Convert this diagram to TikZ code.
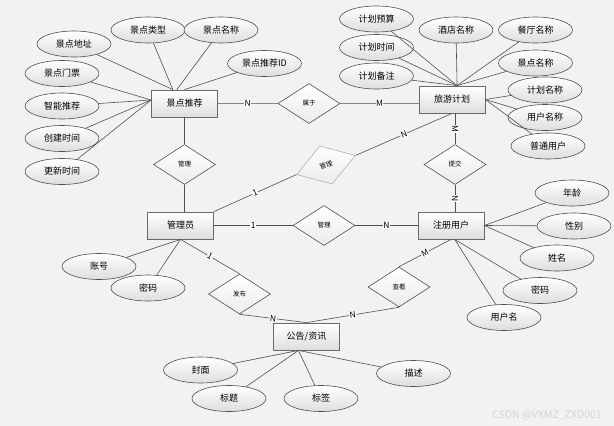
\documentclass[tikz,border=0pt]{standalone}
\usepackage{fontspec}
\setmainfont{Noto Sans CJK SC}
\usepackage{tikz}
\usetikzlibrary{shapes.geometric}
\tikzstyle{pixelGrid} = [x = 1pt, y = -1pt]
\definecolor{paperColor}{RGB}{242,242,242}
\definecolor{borderColor}{RGB}{105,105,105}
\definecolor{lineColor}{RGB}{80,80,80}
\definecolor{thickLineColor}{RGB}{135,135,135}
\definecolor{shadeColor}{RGB}{222,222,222}
\tikzstyle{entityStyle} = [draw=borderColor, line width=.8pt, top color=white, bottom color=shadeColor, minimum width=66pt, minimum height=27pt, inner sep=0pt, font=\fontsize{9}{10}\selectfont]
\tikzstyle{attributeStyle} = [ellipse, draw=lineColor, line width=.6pt, top color=white, bottom color=shadeColor, minimum width=74pt, minimum height=26pt, inner sep=0pt, font=\fontsize{9}{10}\selectfont]
\tikzstyle{relationStyle} = [diamond, draw=lineColor, line width=.6pt, top color=white, bottom color=shadeColor!60, minimum width=62pt, minimum height=40pt, inner sep=0pt, font=\fontsize{6.5}{7}\selectfont]
\tikzstyle{paleRelation} = [draw=black!30]
\tikzstyle{attributeLine} = [color=lineColor, line width=.6pt]
\tikzstyle{relationLine} = [color=lineColor, line width=.6pt]
\tikzstyle{heavyLine} = [color=thickLineColor, line width=1.3pt]
\tikzstyle{cardText} = [fill=white, inner sep=.5pt, midway, sloped, text=black, font=\fontsize{8.5}{9}\selectfont]
\tikzstyle{watermark} = [text=black!17, font=\fontsize{10.5}{11}\selectfont]
\newcommand{\entityNode}[3]{\node [entityStyle] (#1) at (#2) {#3};}
\newcommand{\attributeNode}[3]{\node [attributeStyle] (#1) at (#2) {#3};}
\newcommand{\relationNode}[3]{\node [relationStyle] (#1) at (#2) {#3};}
\newcommand{\attributeLink}[2]{\draw [attributeLine] (#1) -- (#2);}
\newcommand{\relationLink}[3]{\draw [relationLine] (#1) -- node [cardText] {#3} (#2);}
\newcommand{\heavyLink}[3]{\draw [heavyLine] (#1) -- node [cardText] {#3} (#2);}

\begin{document}
\begin{tikzpicture}[pixelGrid]
        \fill [paperColor] (0,0) rectangle (614,426);
        \useasboundingbox (0,0) rectangle (614,426);
        % entities
        \entityNode{jdtj}{184.5,103.5}{景点推荐}
        \entityNode{lyjh}{452,99.5}{旅游计划}
        \entityNode{gly}{180.5,225.5}{管理员}
        \entityNode{zcyh}{451,225.5}{注册用户}
        \entityNode{ggzx}{306.5,336.5}{公告/资讯}
        % relations
        \relationNode{shuyu}{309,103.5}{属于}
        \relationNode{glA}{184.5,164.5}{管理}
        \node [relationStyle, paleRelation, rotate=18] (glB) at (326,165) {管理};
        \relationNode{glC}{324,225.5}{管理}
        \relationNode{tijiao}{455,164.5}{提交}
        \relationNode{fabu}{239.5,294}{发布}
        \relationNode{chakan}{399,287}{查看}
        % attributes of 景点推荐
        \attributeNode{jdA}{74,44}{景点地址}
        \attributeNode{jdB}{148,30}{景点类型}
        \attributeNode{jdC}{221,30}{景点名称}
        \attributeNode{jdD}{264.5,63.5}{景点推荐ID}
        \attributeNode{jdE}{62,73.5}{景点门票}
        \attributeNode{jdF}{62,106}{智能推荐}
        \attributeNode{jdG}{62,138.5}{创建时间}
        \attributeNode{jdH}{62,171.5}{更新时间}
        % attributes of 旅游计划
        \attributeNode{jhA}{376.5,19}{计划预算}
        \attributeNode{jhB}{456,30}{酒店名称}
        \attributeNode{jhC}{535.5,30}{餐厅名称}
        \attributeNode{jhD}{376.5,47.5}{计划时间}
        \attributeNode{jhE}{535.5,63}{景点名称}
        \attributeNode{jhF}{376.5,76}{计划备注}
        \attributeNode{jhG}{545,90}{计划名称}
        \attributeNode{jhH}{545,117.5}{用户名称}
        \attributeNode{jhI}{548,146}{普通用户}
        % attributes of 管理员
        \attributeNode{glyA}{99,266.5}{账号}
        \attributeNode{glyB}{148,288}{密码}
        % attributes of 注册用户
        \attributeNode{yhA}{572,193}{年龄}
        \attributeNode{yhB}{574,226}{性别}
        \attributeNode{yhC}{557,258}{姓名}
        \attributeNode{yhD}{540,290.5}{密码}
        \attributeNode{yhE}{504,317.5}{用户名}
        % attributes of 公告/资讯
        \attributeNode{ggA}{200.5,370}{封面}
        \attributeNode{ggB}{229,398.5}{标题}
        \attributeNode{ggC}{321,398.5}{标签}
        \attributeNode{ggD}{413.5,373.5}{描述}
        % attribute lines
        \foreach \attr in {jdA,jdB} {\attributeLink{\attr}{jdtj.130}}
        \attributeLink{jdC}{jdtj.119}
        \attributeLink{jdD}{jdtj.north}
        \foreach \attr in {jdE,jdF,jdG,jdH} {\attributeLink{\attr}{jdtj.174}}
        \foreach \attr in {jhA,jhB,jhC,jhD,jhE,jhF} {\attributeLink{\attr}{lyjh.70}}
        \foreach \attr in {jhG,jhH,jhI} {\attributeLink{\attr}{lyjh.east}}
        \foreach \attr in {glyA,glyB} {\attributeLink{\attr}{gly.south}}
        \foreach \attr in {yhA,yhB,yhC} {\attributeLink{\attr}{zcyh.east}}
        \foreach \attr in {yhD,yhE} {\attributeLink{\attr}{zcyh.285}}
        \foreach \attr in {ggA,ggB,ggC,ggD} {\attributeLink{\attr}{ggzx.240}}
        % relation lines
        \heavyLink{jdtj.east}{shuyu.west}{N}
        \heavyLink{shuyu.east}{shuyu.east -| lyjh.west}{M}
        \attributeLink{jdtj.south}{glA.north}
        \attributeLink{glA.south}{glA.south |- gly.north}
        \relationLink{gly.north east}{glB.west}{1}
        \relationLink{glB.east}{lyjh.south}{N}
        \relationLink{tijiao.north |- lyjh.south}{tijiao.north}{M}
        \relationLink{tijiao.south}{tijiao.south |- zcyh.north}{N}
        \relationLink{gly.east}{glC.west}{1}
        \relationLink{glC.east}{zcyh.west}{N}
        \relationLink{gly.south}{fabu.north}{1}
        \relationLink{fabu.south}{ggzx.north}{N}
        \relationLink{ggzx.north}{chakan.south}{N}
        \relationLink{chakan.north}{zcyh.south}{M}
        \node [watermark] (csdn) at (547,415) {CSDN @VXMZ\_ZXD001};
      \end{tikzpicture}
\end{document}
